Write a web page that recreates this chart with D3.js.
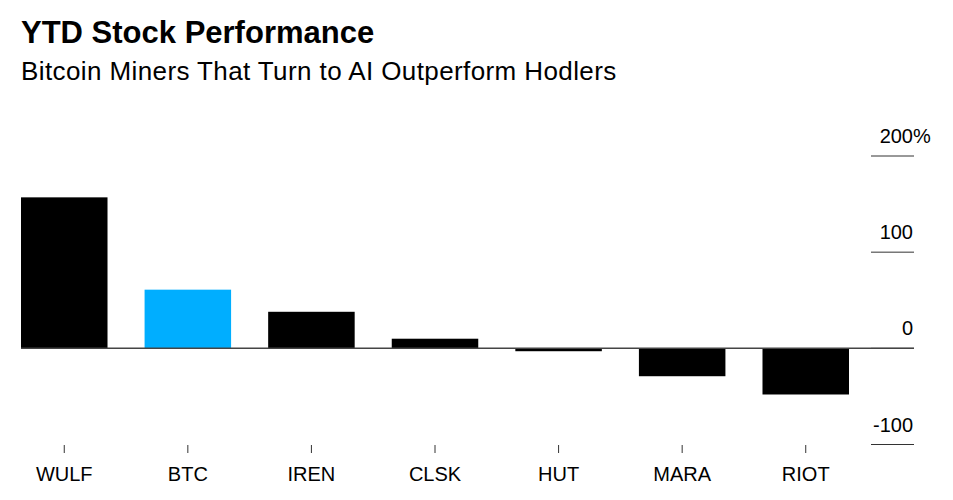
<!DOCTYPE html>
<html>
<head>
<meta charset="utf-8">
<script src="https://cdn.jsdelivr.net/npm/d3@7"></script>
<style>
  body { margin: 0; background: #fff; }
  svg { font-family: "Liberation Sans", Arial, sans-serif; }
</style>
</head>
<body>
<svg id="chart" width="953" height="500"></svg>
<script>
const tickers = ['WULF', 'BTC', 'IREN', 'CLSK', 'HUT', 'MARA', 'RIOT'];
const ytdReturns = [157, 61, 38, 10, -3, -29, -48];
const highlighted = ['BTC'];
const yTicks = [200, 100, 0, -100];

const svg = d3.select('#chart');

svg.append('text')
  .attr('x', 21)
  .attr('y', 43)
  .attr('font-size', 31)
  .attr('font-weight', 'bold')
  .attr('fill', '#000')
  .text('YTD Stock Performance');

svg.append('text')
  .attr('x', 21)
  .attr('y', 80)
  .attr('font-size', 26)
  .attr('letter-spacing', 0.4)
  .attr('fill', '#000')
  .text('Bitcoin Miners That Turn to AI Outperform Hodlers');

const x = d3.scaleBand()
  .domain(tickers)
  .range([21, 849])
  .paddingInner(0.3)
  .paddingOuter(0);

const y = d3.scaleLinear()
  .domain([-100, 200])
  .range([444.5, 156]);

// right-hand gridlines and labels
const yAxis = svg.append('g');
yAxis.selectAll('line')
  .data(yTicks)
  .join('line')
  .attr('x1', 871)
  .attr('x2', 914)
  .attr('y1', d => y(d))
  .attr('y2', d => y(d))
  .attr('stroke', '#333')
  .attr('stroke-width', 1);

yAxis.selectAll('text')
  .data(yTicks)
  .join('text')
  .attr('x', 913)
  .attr('y', d => y(d) - 13)
  .attr('font-size', 20)
  .attr('fill', '#000')
  .attr('text-anchor', 'end')
  .text(d => d);

// the % sign on the top label hangs past the numbers
yAxis.select('text').each(function () {
  const t = d3.select(this);
  const w = this.getComputedTextLength();
  t.attr('text-anchor', 'start').attr('x', 913 - w);
  t.append('tspan').text('%');
});

svg.append('g')
  .selectAll('rect')
  .data(tickers)
  .join('rect')
  .attr('x', d => x(d))
  .attr('width', x.bandwidth())
  .attr('y', (d, i) => y(Math.max(0, ytdReturns[i])))
  .attr('height', (d, i) => Math.abs(y(ytdReturns[i]) - y(0)))
  .attr('fill', d => highlighted.includes(d) ? '#00aeff' : '#000');

svg.append('line')
  .attr('x1', 21)
  .attr('x2', 914)
  .attr('y1', y(0))
  .attr('y2', y(0))
  .attr('stroke', '#444')
  .attr('stroke-width', 1.5);

// category ticks and labels
const xAxis = svg.append('g')
  .attr('transform', 'translate(0,445)')
  .call(d3.axisBottom(x).tickSize(8).tickPadding(14));
xAxis.select('.domain').remove();
xAxis.selectAll('.tick line').attr('stroke', '#333');
xAxis.selectAll('.tick text')
  .attr('font-size', 20)
  .attr('font-family', '"Liberation Sans", Arial, sans-serif')
  .attr('fill', '#000');
</script>
</body>
</html>
